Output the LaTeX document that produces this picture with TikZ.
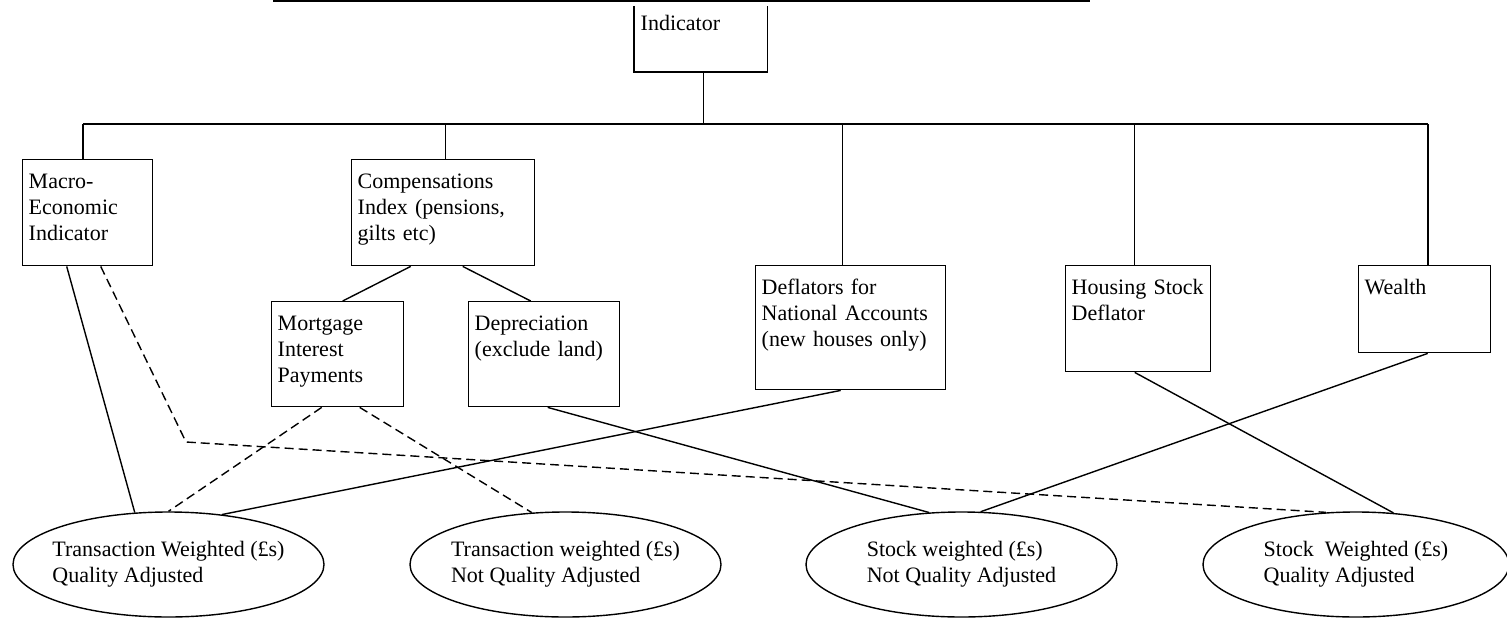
\documentclass[tikz,border=0pt]{standalone}
\usepackage{fontspec}
\setmainfont{Liberation Serif}
\usetikzlibrary{shapes.geometric}
\begin{document}
\begin{tikzpicture}[x=1pt,y=-1pt,
  every node/.style={font=\fontsize{22}{26}\selectfont},
  box/.style={draw, line width=1.4pt, rectangle, anchor=north west, inner xsep=6pt, inner ysep=0pt, align=left, text height=28.5pt},
  ell/.style={draw, line width=1.4pt, ellipse, inner xsep=-10pt, inner ysep=0pt, align=left, minimum width=311pt, minimum height=105pt},
  conn/.style={line width=1.4pt},
  dconn/.style={line width=1.4pt, dash pattern=on 9pt off 5pt}]

\useasboundingbox (0,0) rectangle (1507,618);

% top line
\coordinate (topL) at (273,1);
\coordinate (topR) at (1090,1);
\draw[conn] (topL) -- (topR);

% boxes
\node[box, draw=none, text width=120pt, text depth=41pt] (ind) at (634,1) {Indicator};
\draw[conn] ([yshift=-5pt]ind.north west) -- (ind.south west) -- (ind.south east) -- ([yshift=-5pt]ind.north east);

\node[box, text width=118pt, text depth=77.5pt] (macro) at (22,159) {Macro-\\Economic\\Indicator};
\node[box, text width=171pt, text depth=77.5pt] (comp) at (351,159) {Compensations\\Index (pensions,\\gilts etc)};
\node[box, text width=120pt, text depth=76.5pt] (mort) at (271,301) {Mortgage\\Interest\\Payments};
\node[box, text width=139pt, text depth=76.5pt] (dep) at (468,301) {Depreciation\\(exclude land)};
\node[box, text width=178pt, text depth=95.5pt] (defl) at (755,265) {Deflators for\\National Accounts\\(new houses only)};
\node[box, text width=133pt, text depth=77.5pt] (hous) at (1065,265) {Housing Stock\\Deflator};
\node[box, text width=120pt, text depth=58.5pt] (wealth) at (1358,265) {Wealth};

% ellipses
\node[ell] (e1) at (168.5,564.5) {Transaction Weighted (£s)\\Quality Adjusted};
\node[ell] (e2) at (565.5,564.5) {Transaction weighted (£s)\\Not Quality Adjusted};
\node[ell] (e3) at (961.5,564.5) {Stock weighted (£s)\\Not Quality Adjusted};
\node[ell, minimum width=306pt] (e4) at (1356,564.5) {Stock\ \ Weighted (£s)\\Quality Adjusted};

% bus
\coordinate (busL) at (83,124);
\coordinate (busR) at (1428,124);
\draw[conn] (busL) -- (busR);
\draw[conn] ([xshift=3pt]ind.south) -- ([xshift=3pt]ind.south |- busL);
\draw[conn] (busL) -- (busL |- macro.north);
\draw[conn] ([xshift=2.5pt]comp.north) -- ([xshift=2.5pt]comp.north |- busL);
\draw[conn] ([xshift=-8pt]defl.north) -- ([xshift=-8pt]defl.north |- busL);
\draw[conn] ([xshift=-3.5pt]hous.north) -- ([xshift=-3.5pt]hous.north |- busL);
\draw[conn] (busR) -- (busR |- wealth.north);

% diagonals
\draw[conn] ([xshift=-32.5pt]comp.south) -- ([xshift=5pt]mort.north);
\draw[conn] ([xshift=19.5pt]comp.south) -- ([xshift=-13.5pt]dep.north);
\draw[conn] ([xshift=-21pt]macro.south) -- (e1.123.2);
\coordinate (bend) at (186,442);
\draw[dconn] ([xshift=13pt]macro.south) -- (bend) -- (e4.120.2);
\draw[dconn] ([xshift=-16pt]mort.south) -- (e1.90);
\draw[dconn] ([xshift=22pt]mort.south) -- (e2.123.2);
\draw[conn] ([xshift=3.5pt]dep.south) -- (e3.122.3);
\draw[conn] ([xshift=-10pt]defl.south) -- (e1.43.9);
\draw[conn] ([xshift=-3.5pt]hous.south) -- (e4.54);
\draw[conn] ([xshift=3pt]wealth.south) -- (e3.70.5);
\end{tikzpicture}
\end{document}
